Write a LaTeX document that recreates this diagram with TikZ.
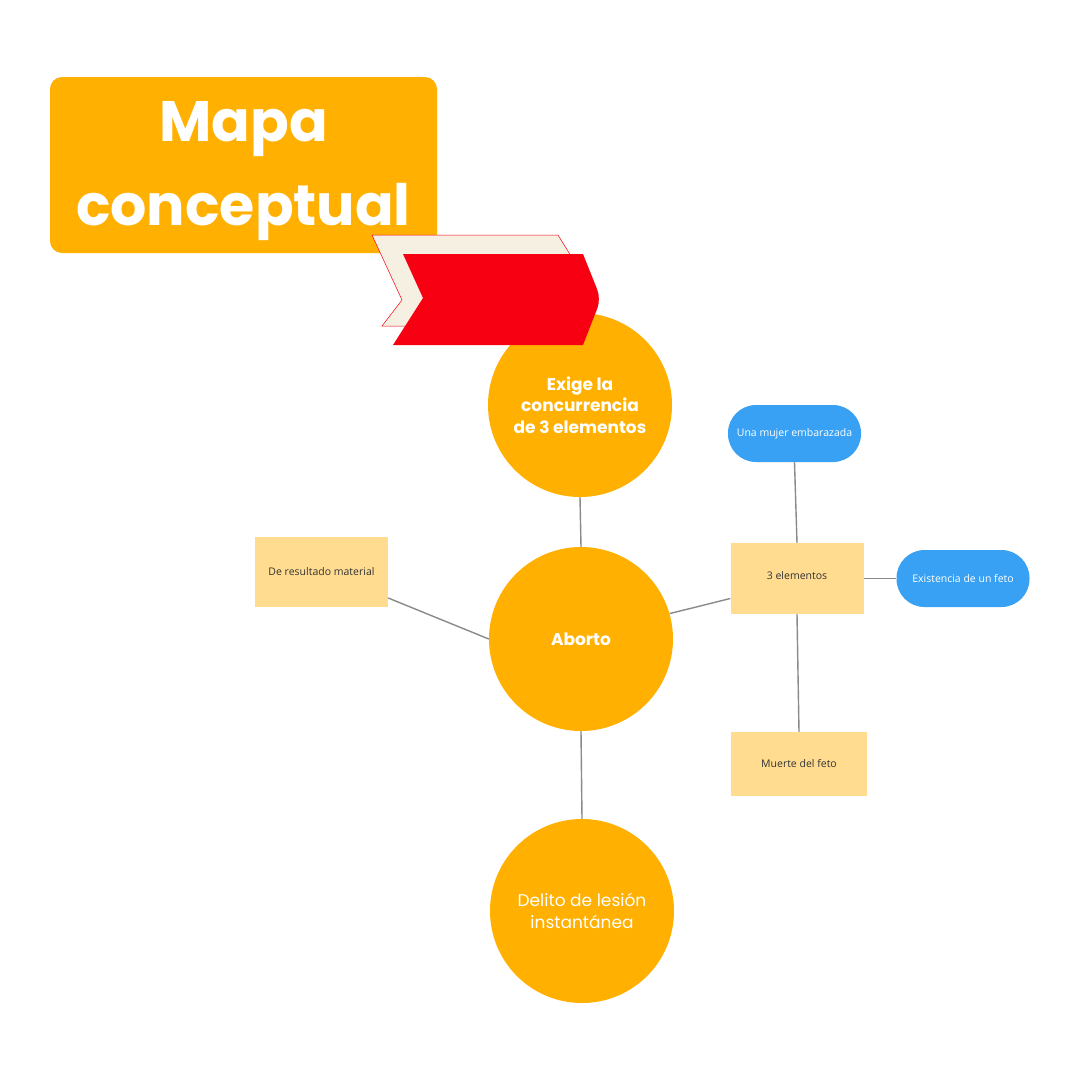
\documentclass[tikz,border=0pt]{standalone}
\usepackage{fontspec}
\setmainfont{Open Sans}
\newfontfamily\popfont{Poppins}
\usepackage{xcolor}
\usetikzlibrary{positioning}

\definecolor{mporange}{HTML}{FFB000}
\definecolor{mpyellow}{HTML}{FFDC90}
\definecolor{mpblue}{HTML}{38A1F3}
\definecolor{mpred}{HTML}{F70011}
\definecolor{mpcream}{HTML}{F5F0E1}
\definecolor{mpgray}{HTML}{8A8A8A}
\definecolor{mptext}{HTML}{333333}

\begin{document}
\begin{tikzpicture}[
    x=1pt, y=-1pt,
    every node/.style={inner sep=0pt},
    bubble/.style={circle, fill=mporange, minimum size=184pt, text=white, align=center,
      font=\popfont\fontsize{17}{21.5}\selectfont},
    note/.style={rectangle, fill=mpyellow, minimum width=133pt, minimum height=#1, text=mptext,
      font=\fontsize{10.5}{12}\selectfont},
    pill/.style={rectangle, rounded corners=28pt, fill=mpblue, minimum width=133pt, minimum height=57pt,
      text=white, font=\fontsize{10.5}{12}\selectfont},
    link/.style={draw=mpgray, line width=1.4pt}
]
\useasboundingbox[fill=white] (0,0) rectangle (1080,1080);

% title
\node[fill=mporange, rounded corners=12pt, minimum width=387pt, minimum height=176pt]
  (titulo) at (243.5,165) {};
\node[text=white, align=center, font=\popfont\bfseries\fontsize{57}{84}\selectfont]
  (tituloTxt) at ([yshift=-6pt]titulo.center) {Mapa\\conceptual};

% circles
\node[bubble, font=\popfont\bfseries\fontsize{17}{21.5}\selectfont] (exige) at (580,405)
  {Exige la\\concurrencia\\de 3 elementos};
\node[bubble, font=\popfont\bfseries\fontsize{17}{21.5}\selectfont] (aborto) at (581,639) {Aborto};
\node[bubble] (delito) at (582,911) {Delito de lesión\\instantánea};

% boxes
\node[note=70pt] (resultado) at (321.5,572) {De resultado material};
\node[note=71pt] (tres) at (797,578.5) {\raisebox{5pt}{3 elementos}};
\node[note=64pt, minimum width=136pt] (muerte) at (799,764) {Muerte del feto};
\node[pill] (mujer) at (794.5,433.5) {Una mujer embarazada};
\node[pill] (feto) at (963,578.5) {Existencia de un feto};

% links
\draw[link] (exige.south) -- (aborto.north);
\draw[link] (aborto.west) -- ([yshift=-26pt]resultado.east);
\draw[link] (aborto.16) -- ([yshift=-20pt]tres.west);
\draw[link] (aborto.south) -- (delito.north);
\draw[link] (tres.north) -- (mujer.south);
\draw[link] (tres.east) -- (feto.west);
\draw[link] (tres.south) -- (muerte.north);

% chevrons
\filldraw[fill=mpcream, draw=mpred, line width=0.5pt]
  (372,235) -- (558,235) -- (592,290) -- (572,326) -- (382,326) -- (402,300) -- cycle;
\fill[mpred] (403,254) -- (583,254) [rounded corners=10pt] -- (601,299) [sharp corners] -- (583,345)
  -- (393,345) -- (423,298) -- cycle;
\end{tikzpicture}
\end{document}
